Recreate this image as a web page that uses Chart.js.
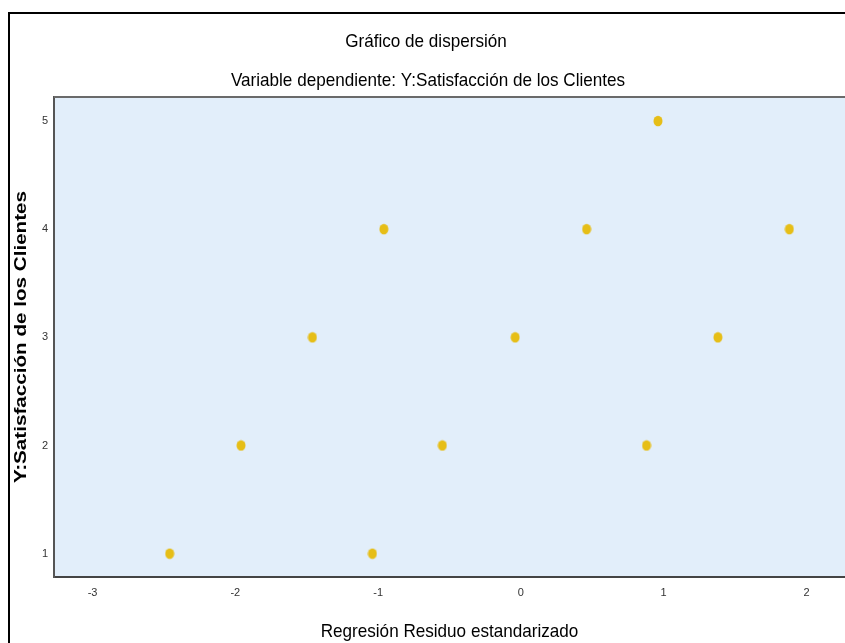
<!DOCTYPE html>
<html lang="es">
<head>
<meta charset="utf-8">
<title>Gráfico de dispersión</title>
<script src="https://cdn.jsdelivr.net/npm/chart.js@4/dist/chart.umd.min.js"></script>
<style>
  html, body { margin: 0; padding: 0; background: #fff; overflow: hidden; }
  #wrap { width: 845px; height: 643px; }
</style>
</head>
<body>
<div id="wrap"><canvas id="chart" width="845" height="643"></canvas></div>
<script>
// Standardized regression residual (x) against customer satisfaction score (y)
const residuals    = [-2.46, -1.04, -1.96, -0.55, 0.88, -1.46, -0.04, 1.38, -0.96, 0.46, 1.88, 0.96];
const satisfaction = [1, 1, 2, 2, 2, 3, 3, 3, 4, 4, 4, 5];
const xTicks = [-3, -2, -1, 0, 1, 2];
const yTicks = [1, 2, 3, 4, 5];

const chartTitle = 'Gráfico de dispersión';
const chartSubtitle = 'Variable dependiente: Y:Satisfacción de los Clientes';
const xAxisTitle = 'Regresión Residuo estandarizado';
const yAxisTitle = 'Y:Satisfacción de los Clientes';

const SANS = '"Liberation Sans", Arial, sans-serif';
const MARKER = '#E6BE17';
const PLOT_BG = 'rgb(226,238,250)';

// Slightly tall oval marker
function ovalMarker() {
  const c = document.createElement('canvas');
  c.width = 10; c.height = 12;
  const g = c.getContext('2d');
  g.fillStyle = MARKER;
  g.beginPath();
  g.ellipse(5, 6, 4.5, 5.3, 0, 0, Math.PI * 2);
  g.fill();
  return c;
}

const points = residuals.map((r, i) => ({ x: r, y: satisfaction[i] }));

// Draws a centred label, squeezed or stretched along its reading direction
function label(ctx, text, x, y, size, weight, stretch, angle) {
  ctx.save();
  ctx.translate(x, y);
  if (angle) ctx.rotate(angle);
  ctx.scale(stretch, 1);
  ctx.fillStyle = '#000';
  ctx.font = weight + ' ' + size + 'px ' + SANS;
  ctx.textAlign = 'center';
  ctx.textBaseline = 'middle';
  ctx.fillText(text, 0, 0);
  ctx.restore();
}

// Page frame, plot background, plot box top edge and the titles
const framePlugin = {
  id: 'frame',
  beforeDraw(chart) {
    const { ctx, chartArea: a } = chart;
    ctx.save();
    ctx.fillStyle = '#fff';
    ctx.fillRect(0, 0, chart.width, chart.height);
    ctx.fillStyle = PLOT_BG;
    ctx.fillRect(a.left, a.top, a.right - a.left, a.bottom - a.top);
    ctx.restore();
  },
  afterDraw(chart) {
    const { ctx, chartArea: a } = chart;
    ctx.save();
    ctx.strokeStyle = '#6a6a6a';
    ctx.lineWidth = 2;
    ctx.beginPath();
    ctx.moveTo(a.left, a.top);
    ctx.lineTo(a.right, a.top);
    ctx.stroke();
    ctx.strokeStyle = '#000';
    ctx.lineWidth = 2;
    ctx.strokeRect(9, 13, 900, 700);
    ctx.restore();

    const midX = (a.left + a.right) / 2;
    label(ctx, chartTitle, 426, 42, 19, 'normal', 0.9, 0);
    label(ctx, chartSubtitle, 428, 81, 19, 'normal', 0.9, 0);
    label(ctx, xAxisTitle, midX, 632, 19, 'normal', 0.9, 0);
    label(ctx, yAxisTitle, 21.5, (a.top + a.bottom) / 2, 16, 'bold', 1.29, -Math.PI / 2);
  }
};

new Chart(document.getElementById('chart'), {
  type: 'scatter',
  data: {
    datasets: [{
      label: yAxisTitle,
      data: points,
      pointStyle: ovalMarker(),
      pointRadius: 5,
      pointHoverRadius: 5
    }]
  },
  options: {
    responsive: false,
    animation: false,
    devicePixelRatio: 1,
    layout: { padding: { top: 97, left: 0, right: 0, bottom: 0 }, autoPadding: false },
    plugins: {
      legend: { display: false },
      tooltip: { enabled: false },
      title: { display: false },
      subtitle: { display: false }
    },
    scales: {
      x: {
        type: 'linear',
        min: -3.27,
        max: 2.27,
        afterFit(s) { s.height = 66; },
        afterBuildTicks(s) { s.ticks = xTicks.map(v => ({ value: v })); },
        grid: { display: false, drawTicks: false },
        border: { display: true, color: '#444', width: 2 },
        ticks: {
          padding: 9,
          color: '#333',
          font: { family: SANS, size: 11 },
          callback: v => String(v)
        },
        title: { display: false }
      },
      y: {
        type: 'linear',
        min: 0.784,
        max: 5.222,
        afterFit(s) { s.width = 54; },
        afterBuildTicks(s) { s.ticks = yTicks.map(v => ({ value: v })); },
        grid: { display: false, drawTicks: false },
        border: { display: true, color: '#555', width: 2 },
        ticks: {
          padding: 6,
          color: '#333',
          font: { family: SANS, size: 11 },
          callback: v => String(v)
        },
        title: { display: false }
      }
    }
  },
  plugins: [framePlugin]
});
</script>
</body>
</html>
